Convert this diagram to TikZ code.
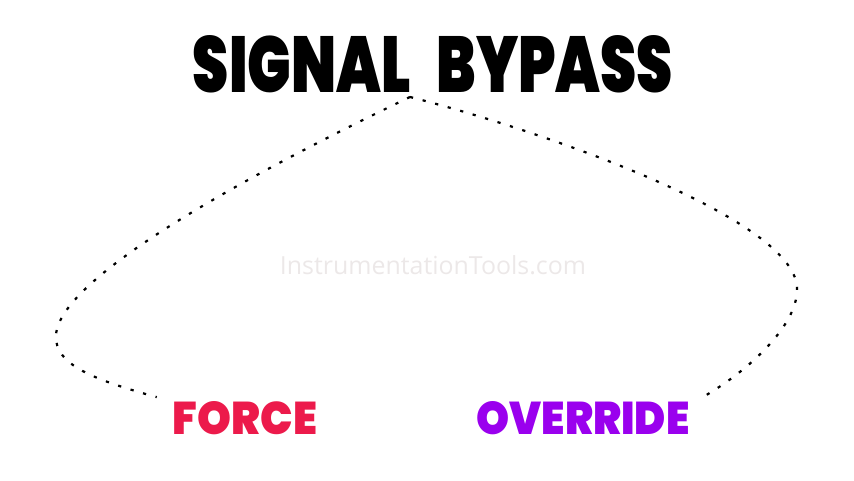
\documentclass[tikz,border=0pt]{standalone}
\usepackage{fontspec}
\usepackage{graphicx}
\setmainfont{Poppins}
\newfontfamily\titlefont{Poppins Black}
\newfontfamily\markfont{Open Sans}
\usetikzlibrary{calc}
\definecolor{forcered}{HTML}{EC1A4B}
\definecolor{overridepurple}{HTML}{9A00EE}
\definecolor{markgray}{HTML}{ECE8E8}
\tikzstyle{heading} = [inner sep=0pt, font=\titlefont]
\tikzstyle{mode} = [inner sep=0pt, font=\titlefont]
\tikzstyle{link} = [line width=2.2pt, dash pattern=on 3.2pt off 9.8pt]

\begin{document}
\begin{tikzpicture}[x=1pt, y=-1pt]
    \useasboundingbox (0,0) rectangle (854,480);

    % Watermark
    \node[inner sep=0pt, text=markgray, font=\markfont] (mark) at (433,265) {\resizebox{306pt}{!}{InstrumentationTools.com}};

    % Title
    \node[heading] (title) at (433,64) {\resizebox{480pt}{57pt}{SIGNAL\hspace{0.45em}BYPASS}};
    \coordinate (peak) at ($(title.south)+(-23,4)$);

    % Two modes
    \node[mode, text=forcered] (force) at (245,418) {\resizebox{144pt}{33pt}{FORCE}};
    \node[mode, text=overridepurple] (override) at (583,418) {\resizebox{213pt}{33pt}{OVERRIDE}};

    % Dotted links
    \draw[link] (peak) .. controls (300,150) and (60,270) .. (56,335)
        .. controls (54,365) and (95,380) .. ($(force.north west)+(-16,-4)$);
    \draw[link] (peak) .. controls (540,130) and (800,220) .. (797,290)
        .. controls (797,325) and (750,370) .. ($(override.north east)+(13,-4)$);
\end{tikzpicture}
\end{document}
